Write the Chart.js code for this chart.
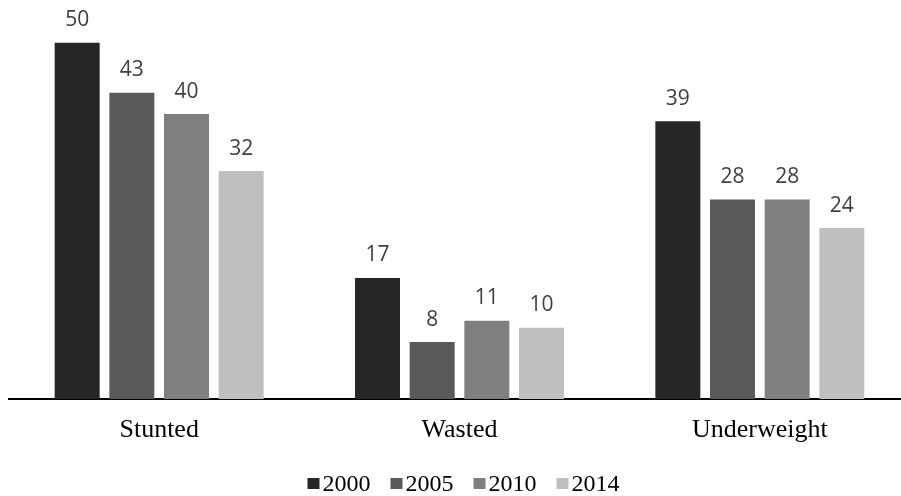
<!DOCTYPE html>
<html>
<head>
<meta charset="utf-8">
<script src="https://cdn.jsdelivr.net/npm/chart.js@4.4.1/dist/chart.umd.min.js"></script>
<style>
  html, body { margin: 0; padding: 0; background: #fff; overflow: hidden; }
  #wrap { width: 901px; height: 496px; overflow: hidden; position: relative; }
  #chart { display: block; }
</style>
</head>
<body>
<div id="wrap"><canvas id="chart" width="910" height="496"></canvas></div>
<script>
// Malnutrition indicators by survey year (%)
const categories = ['Stunted', 'Wasted', 'Underweight'];
const years = ['2000', '2005', '2010', '2014'];
const values2000 = [50, 17, 39];
const values2005 = [43, 8, 28];
const values2010 = [40, 11, 28];
const values2014 = [32, 10, 24];
const seriesColors = ['#262626', '#595959', '#7f7f7f', '#bfbfbf'];

const seriesValues = [values2000, values2005, values2010, values2014];

// Value labels above each bar
const valueLabels = {
  id: 'valueLabels',
  afterDatasetsDraw(chart) {
    const ctx = chart.ctx;
    ctx.save();
    ctx.font = '21px "Open Sans", sans-serif';
    ctx.fillStyle = '#404040';
    ctx.textAlign = 'center';
    ctx.textBaseline = 'alphabetic';
    chart.data.datasets.forEach((ds, i) => {
      const meta = chart.getDatasetMeta(i);
      meta.data.forEach((bar, j) => {
        ctx.fillText(String(ds.data[j]), bar.x, bar.y - 16.5);
      });
    });
    ctx.restore();
  }
};

// Compact legend row: small square swatch followed closely by the year
const bottomLegend = {
  id: 'bottomLegend',
  afterDraw(chart) {
    const ctx = chart.ctx;
    const box = 12, boxGap = 3, itemGap = 20;
    ctx.save();
    ctx.font = '24px "Liberation Serif", "Times New Roman", serif';
    ctx.textBaseline = 'alphabetic';
    ctx.textAlign = 'left';
    const items = chart.data.datasets.map(ds => ({
      label: ds.label, color: ds.backgroundColor, w: ctx.measureText(ds.label).width
    }));
    const total = items.reduce((s, it) => s + box + boxGap + it.w, 0) + itemGap * (items.length - 1);
    const cx = (chart.chartArea.left + chart.chartArea.right) / 2 + 4;
    let x = cx - total / 2;
    const baseline = 490.7;
    items.forEach(it => {
      ctx.fillStyle = it.color;
      ctx.fillRect(x, 478, box, 11);
      ctx.fillStyle = '#000';
      ctx.fillText(it.label, x + box + boxGap, baseline);
      x += box + boxGap + it.w + itemGap;
    });
    ctx.restore();
  }
};

new Chart(document.getElementById('chart'), {
  type: 'bar',
  data: {
    labels: categories,
    datasets: years.map((y, i) => ({
      label: y,
      data: seriesValues[i],
      backgroundColor: seriesColors[i],
      borderWidth: 0,
      categoryPercentage: 0.728,
      barPercentage: 0.823
    }))
  },
  options: {
    responsive: false,
    animation: false,
    devicePixelRatio: 1,
    layout: { padding: { left: 9, right: 0, top: 0, bottom: 33.8 } },
    plugins: {
      legend: { display: false },
      tooltip: { enabled: false }
    },
    scales: {
      x: {
        grid: { display: false, drawTicks: false },
        border: { display: true, color: '#000', width: 2 },
        ticks: {
          color: '#000',
          padding: 16,
          font: { family: '"Liberation Serif", "Times New Roman", serif', size: 26 }
        }
      },
      y: {
        display: false,
        min: 0,
        max: 56
      }
    }
  },
  plugins: [valueLabels, bottomLegend]
});
</script>
</body>
</html>
